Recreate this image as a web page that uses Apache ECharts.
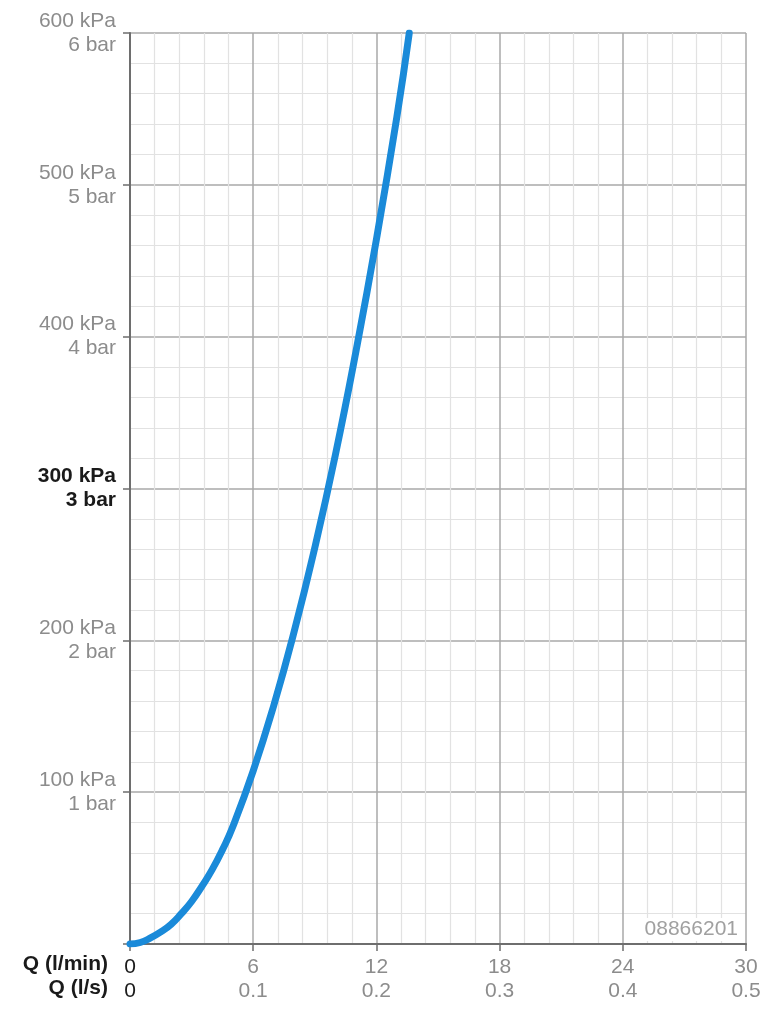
<!DOCTYPE html>
<html>
<head>
<meta charset="utf-8">
<script src="https://cdn.jsdelivr.net/npm/echarts@6/dist/echarts.min.js"></script>
<style>
html,body{margin:0;padding:0;background:#fff;}
#c{width:773px;height:1024px;}
</style>
</head>
<body>
<div id="c"></div>
<script>
// Flow rate Q (l/min) and pressure loss (kPa)
const flowLpm = [0, 0.5, 1, 1.5, 2, 2.5, 3, 3.5, 4, 4.5, 5, 6, 7, 8, 9, 10, 11, 12, 13, 13.6];
const pressureKPa = [0, 1, 4, 8, 13, 20, 28, 38, 49, 62, 77, 114, 157, 206, 261, 322, 390, 464, 545, 600];
// Tick labels
const yKpaLabels = {100: '100 kPa', 200: '200 kPa', 300: '300 kPa', 400: '400 kPa', 500: '500 kPa', 600: '600 kPa'};
const yBarLabels = {100: '1 bar', 200: '2 bar', 300: '3 bar', 400: '4 bar', 500: '5 bar', 600: '6 bar'};
const xLpmLabels = {0: '0', 6: '6', 12: '12', 18: '18', 24: '24', 30: '30'};
const xLpsLabels = {0: '0', 6: '0.1', 12: '0.2', 18: '0.3', 24: '0.4', 30: '0.5'};
const axisTitles = ['Q (l/min)', 'Q (l/s)'];
const codeLabel = '08866201';

const chart = echarts.init(document.getElementById('c'));
const font = '"Liberation Sans", Arial, Helvetica, sans-serif';
const gray = '#8c8c8c';
const dark = '#1a1a1a';

chart.setOption({
  animation: false,
  backgroundColor: '#fff',
  grid: {left: 130, right: 27, top: 33, bottom: 80, containLabel: false},
  xAxis: {
    type: 'value', min: 0, max: 30, interval: 6,
    axisLine: {show: true, lineStyle: {color: '#6e6e6e', width: 2}},
    axisTick: {show: true, length: 7, lineStyle: {color: '#6e6e6e', width: 1.5}},
    minorTick: {show: false, splitNumber: 5},
    splitLine: {show: true, lineStyle: {color: '#a8a8a8', width: 1.5}},
    minorSplitLine: {show: true, lineStyle: {color: '#e2e2e2', width: 1.2}},
    axisLabel: {
      margin: 11,
      fontFamily: font,
      formatter: function (v) {
        const s = v === 0 ? 'd' : 'g';
        return '{' + s + '|' + xLpmLabels[v] + '}\n{' + s + '|' + xLpsLabels[v] + '}';
      },
      rich: {
        g: {color: gray, fontSize: 21, lineHeight: 24, fontFamily: font},
        d: {color: dark, fontSize: 21, lineHeight: 24, fontFamily: font}
      }
    }
  },
  yAxis: {
    type: 'value', min: 0, max: 600, interval: 100,
    axisLine: {show: true, lineStyle: {color: '#6e6e6e', width: 2}},
    axisTick: {show: true, length: 7, lineStyle: {color: '#6e6e6e', width: 1.5}},
    minorTick: {show: false, splitNumber: 5},
    splitLine: {show: true, lineStyle: {color: '#a8a8a8', width: 1.5}},
    minorSplitLine: {show: true, lineStyle: {color: '#e2e2e2', width: 1.2}},
    axisLabel: {
      margin: 14,
      fontFamily: font,
      formatter: function (v) {
        if (!yKpaLabels[v]) return '';
        const s = v === 300 ? 'b' : 'g';
        return '{' + s + '|' + yKpaLabels[v] + '}\n{' + s + '|' + yBarLabels[v] + '}';
      },
      rich: {
        g: {color: gray, fontSize: 21, lineHeight: 24, align: 'right', fontFamily: font},
        b: {color: dark, fontSize: 21, lineHeight: 24, fontWeight: 'bold', align: 'right', fontFamily: font}
      }
    }
  },
  series: [{
    type: 'line',
    smooth: 0.5,
    symbol: 'none',
    clip: true,
    lineStyle: {color: '#1a8ad9', width: 7, cap: 'round'},
    data: flowLpm.map((q, i) => [q, pressureKPa[i]])
  }],
  graphic: [
    {type: 'text', right: 773 - 108, top: 954, style: {text: axisTitles[0], font: 'bold 21px ' + font, fill: dark, textAlign: 'right'}},
    {type: 'text', right: 773 - 108, top: 978, style: {text: axisTitles[1], font: 'bold 21px ' + font, fill: dark, textAlign: 'right'}},
    {type: 'text', right: 773 - 740, top: 918, z: 10, style: {text: codeLabel, font: '21px ' + font, fill: '#a0a0a0', textAlign: 'right', backgroundColor: '#ffffff', padding: [1, 2, 1, 4]}}
  ]
});
</script>
</body>
</html>
